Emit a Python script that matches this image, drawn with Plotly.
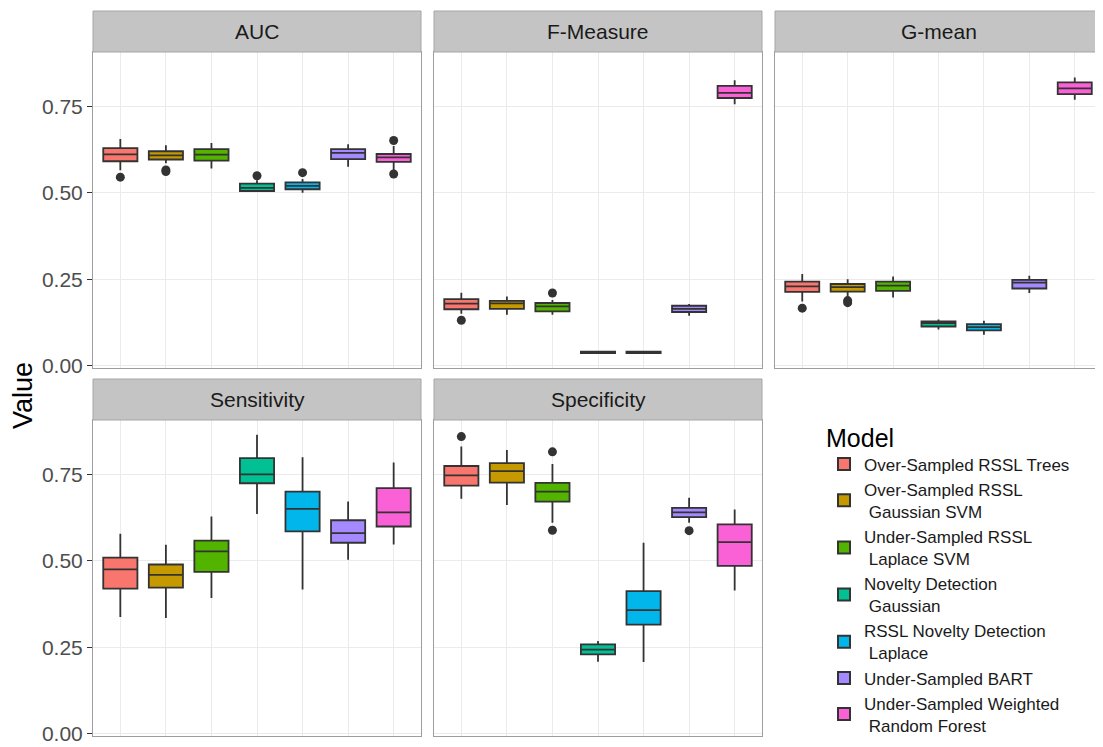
import plotly.graph_objects as go

# ---------------- data ----------------
MODELS = [
    "Over-Sampled RSSL Trees",
    "Over-Sampled RSSL<br> Gaussian SVM",
    "Under-Sampled RSSL<br> Laplace SVM",
    "Novelty Detection<br> Gaussian",
    "RSSL Novelty Detection<br> Laplace",
    "Under-Sampled BART",
    "Under-Sampled Weighted<br> Random Forest",
]
COLORS = ["#F8766D", "#C49A00", "#53B400", "#00C094", "#00B6EB", "#A58AFF", "#FB61D7"]
METRICS = ["AUC", "F-Measure", "G-mean", "Sensitivity", "Specificity"]

AUC_LOW = [0.565, 0.585, 0.570, 0.503, 0.500, 0.575, 0.565]
AUC_Q1 = [0.591, 0.596, 0.593, 0.505, 0.510, 0.597, 0.589]
AUC_MED = [0.611, 0.608, 0.610, 0.514, 0.520, 0.615, 0.602]
AUC_Q3 = [0.629, 0.620, 0.626, 0.526, 0.530, 0.626, 0.612]
AUC_HIGH = [0.655, 0.637, 0.644, 0.536, 0.540, 0.640, 0.635]
AUC_OUT = [[0.545], [0.566, 0.561], [], [0.549], [0.558], [], [0.651, 0.554]]

FM_LOW = [0.150, 0.147, 0.147, 0.035, 0.035, 0.144, 0.756]
FM_Q1 = [0.163, 0.164, 0.157, 0.036, 0.036, 0.155, 0.774]
FM_MED = [0.179, 0.180, 0.171, 0.038, 0.038, 0.164, 0.789]
FM_Q3 = [0.192, 0.187, 0.181, 0.040, 0.040, 0.173, 0.809]
FM_HIGH = [0.211, 0.200, 0.190, 0.041, 0.041, 0.178, 0.825]
FM_OUT = [[0.131], [], [0.210], [], [], [], []]

GM_LOW = [0.185, 0.200, 0.197, 0.104, 0.089, 0.210, 0.769]
GM_Q1 = [0.213, 0.214, 0.216, 0.113, 0.102, 0.223, 0.785]
GM_MED = [0.229, 0.227, 0.231, 0.123, 0.111, 0.240, 0.802]
GM_Q3 = [0.243, 0.236, 0.243, 0.128, 0.120, 0.248, 0.819]
GM_HIGH = [0.265, 0.250, 0.258, 0.133, 0.130, 0.260, 0.833]
GM_OUT = [[0.166], [0.188, 0.182], [], [], [], [], []]

SE_LOW = [0.337, 0.334, 0.392, 0.635, 0.417, 0.503, 0.547]
SE_Q1 = [0.419, 0.422, 0.468, 0.724, 0.585, 0.552, 0.599]
SE_MED = [0.475, 0.459, 0.527, 0.750, 0.650, 0.580, 0.640]
SE_Q3 = [0.509, 0.489, 0.558, 0.797, 0.700, 0.617, 0.710]
SE_HIGH = [0.578, 0.546, 0.628, 0.864, 0.799, 0.671, 0.784]
SE_OUT = [[], [], [], [], [], [], []]

SP_LOW = [0.679, 0.661, 0.610, 0.208, 0.207, 0.610, 0.414]
SP_Q1 = [0.717, 0.726, 0.671, 0.229, 0.315, 0.626, 0.485]
SP_MED = [0.747, 0.759, 0.700, 0.243, 0.357, 0.640, 0.554]
SP_Q3 = [0.774, 0.782, 0.725, 0.258, 0.412, 0.653, 0.605]
SP_HIGH = [0.830, 0.820, 0.780, 0.268, 0.552, 0.682, 0.648]
SP_OUT = [[0.859], [], [0.815, 0.588], [], [], [0.587], []]

STATS = {
    "AUC": (AUC_LOW, AUC_Q1, AUC_MED, AUC_Q3, AUC_HIGH, AUC_OUT),
    "F-Measure": (FM_LOW, FM_Q1, FM_MED, FM_Q3, FM_HIGH, FM_OUT),
    "G-mean": (GM_LOW, GM_Q1, GM_MED, GM_Q3, GM_HIGH, GM_OUT),
    "Sensitivity": (SE_LOW, SE_Q1, SE_MED, SE_Q3, SE_HIGH, SE_OUT),
    "Specificity": (SP_LOW, SP_Q1, SP_MED, SP_Q3, SP_HIGH, SP_OUT),
}
Y_TICKS = [0.0, 0.25, 0.5, 0.75]
Y_TICKTEXT = ["0.00", "0.25", "0.50", "0.75"]

# ---------------- layout geometry ----------------
OFF = 8                      # page body margin
FW, FH = 1103 - OFF, 747 - OFF


def px(x):
    return (x - OFF) / FW


def py(y):
    return 1 - (y - OFF) / FH


X_DOM = [(px(93), px(421)), (px(434), px(762)), (px(775), px(1102)),
         (px(93), px(421)), (px(434), px(762))]
TOP_Y = (py(368), py(52))
BOT_Y = (py(736), py(420))
Y_DOM = [TOP_Y, TOP_Y, TOP_Y, BOT_Y, BOT_Y]
Y_RANGE = [-0.007, 0.907]
PANEL_H = 316
STRIP_H = 41

fig = go.Figure()
LINE = "#333333"

for p, metric in enumerate(METRICS):
    lo, q1, med, q3, hi, outs = STATS[metric]
    ax = "" if p == 0 else str(p + 1)
    for i, m in enumerate(MODELS):
        fig.add_trace(go.Box(
            x=[m], q1=[q1[i]], median=[med[i]], q3=[q3[i]],
            lowerfence=[lo[i]], upperfence=[hi[i]],
            name=m, legendgroup=m, showlegend=(p == 0),
            fillcolor=COLORS[i], line=dict(color=LINE, width=1.8),
            whiskerwidth=0, width=0.75, boxpoints=False,
            xaxis="x" + ax, yaxis="y" + ax, hoverinfo="skip",
        ))
        if outs[i]:
            fig.add_trace(go.Scatter(
                x=[m] * len(outs[i]), y=outs[i], mode="markers",
                marker=dict(color=LINE, size=9), showlegend=False,
                legendgroup=m, xaxis="x" + ax, yaxis="y" + ax, hoverinfo="skip",
            ))

layout = dict(
    width=FW, height=FH, margin=dict(l=0, r=0, t=0, b=0, autoexpand=False),
    plot_bgcolor="white", paper_bgcolor="white",
    font=dict(family="Liberation Sans, Arial, sans-serif", color="#1A1A1A"),
    boxmode="overlay",
    showlegend=True,
    legend=dict(
        x=px(824), xanchor="left", y=py(414), yanchor="top",
        title=dict(text="Model", font=dict(size=25, color="black")),
        font=dict(size=17, color="#1A1A1A"),
        bgcolor="rgba(0,0,0,0)", itemsizing="constant",
        tracegroupgap=0,
    ),
)
annotations = []
shapes = []
for p, metric in enumerate(METRICS):
    ax = "" if p == 0 else str(p + 1)
    left_col = p in (0, 3)
    layout["xaxis" + ax] = dict(
        domain=list(X_DOM[p]), anchor="y" + ax, type="category",
        categoryorder="array", categoryarray=MODELS, range=[-0.6, 6.6],
        showticklabels=False, ticks="", showgrid=True, gridcolor="#EBEBEB",
        gridwidth=1, zeroline=False, showline=True, mirror=True,
        linecolor="#9E9E9E", linewidth=1, fixedrange=True, automargin=False,
    )
    layout["yaxis" + ax] = dict(
        domain=list(Y_DOM[p]), anchor="x" + ax, range=Y_RANGE,
        tickvals=Y_TICKS, ticktext=Y_TICKTEXT,
        showticklabels=left_col, ticks="outside" if left_col else "",
        ticklen=5, tickcolor="#333333", tickwidth=1,
        tickfont=dict(size=21, color="#4D4D4D"), ticklabeloverflow="allow",
        showgrid=True, gridcolor="#EBEBEB", gridwidth=1, zeroline=False,
        showline=True, mirror=True, linecolor="#9E9E9E", linewidth=1,
        fixedrange=True, automargin=False,
    )
    xref = ("x" + ax) + " domain"
    yref = ("y" + ax) + " domain"
    shapes.append(dict(type="rect", xref=xref, yref=yref, x0=0, x1=1,
                       y0=1, y1=1 + STRIP_H / PANEL_H, fillcolor="#C4C4C4",
                       line=dict(color="#A6A6A6", width=1), layer="above"))
    annotations.append(dict(text=metric, xref=xref, yref=yref, x=0.5,
                            y=1 + (STRIP_H / 2) / PANEL_H, showarrow=False,
                            font=dict(size=21, color="#1A1A1A"),
                            xanchor="center", yanchor="middle"))

annotations.append(dict(text="Value", xref="paper", yref="paper",
                        x=px(23), y=py(396), showarrow=False, textangle=-90,
                        font=dict(size=27, color="black"),
                        xanchor="center", yanchor="middle"))
layout["annotations"] = annotations
layout["shapes"] = shapes
fig.update_layout(**layout)

fig.write_html("out.html")
